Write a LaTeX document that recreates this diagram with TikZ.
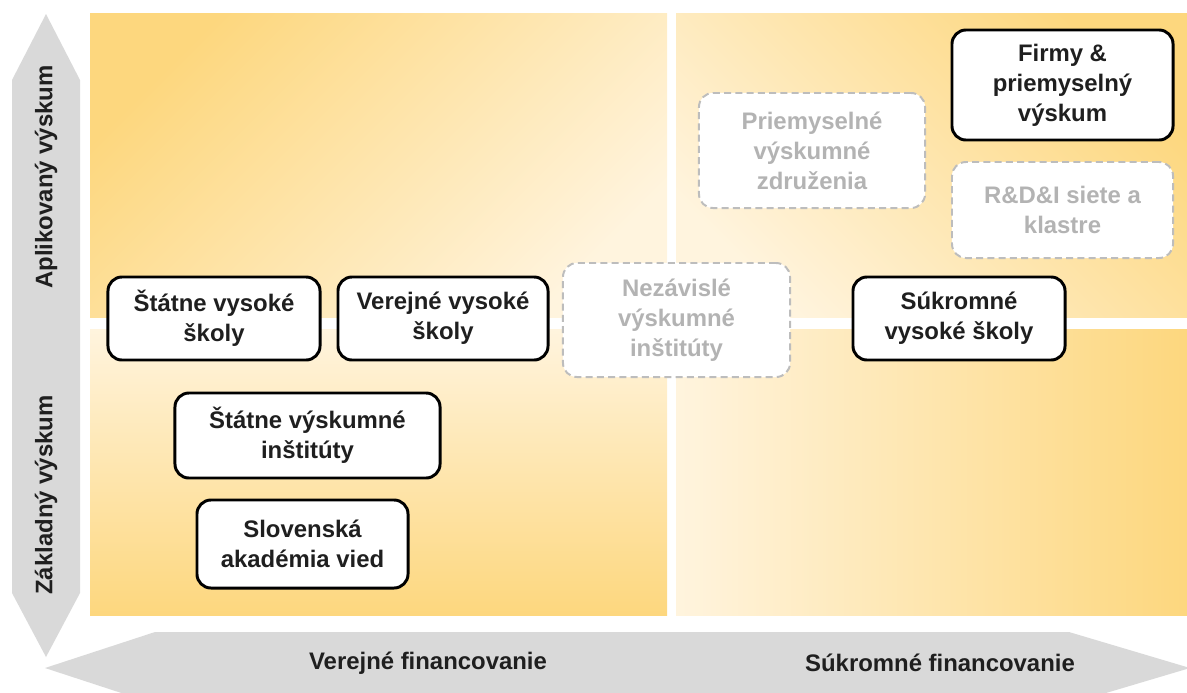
\documentclass[tikz,border=0pt]{standalone}
\usepackage{fontspec}
\setmainfont{Liberation Sans}
\definecolor{golddark}{HTML}{FDD77E}
\definecolor{goldlight}{HTML}{FFF4DE}
\definecolor{arrowgray}{HTML}{D9D9D9}
\definecolor{dashgray}{HTML}{BDBDBD}
\definecolor{textgray}{HTML}{B3B3B3}
\definecolor{textdark}{HTML}{1F1F1F}
\tikzset{
  boxtext/.style={align=center,inner sep=0pt,font=\bfseries\fontsize{17}{21.3}\selectfont},
  solidbox/.style={boxtext,draw=black,line width=2.1pt,rounded corners=0.35cm,fill=white,text=textdark},
  dashbox/.style={boxtext,draw=dashgray,line width=1.4pt,dash pattern=on 5pt off 3pt,rounded corners=0.35cm,fill=white,text=textgray},
  axislabel/.style={inner sep=0pt,text=textdark,font=\bfseries\fontsize{17}{21}\selectfont}
}
\begin{document}
\begin{tikzpicture}[x=0.025cm,y=-0.025cm]
    \useasboundingbox (0,0) rectangle (1187,692) ;
    %\draw[very thin,gray,step=50] (0,0) grid (1187,692) ;
         % quadrants
         \shade[top color=golddark,bottom color=goldlight,shading angle=45] (90,13) rectangle (667,317) ;
         \shade[top color=goldlight,bottom color=golddark] (90,329) rectangle (667,615) ;
         \shade[top color=golddark,bottom color=goldlight,shading angle=-45] (676,13) rectangle (1187,317) ;
         \shade[left color=goldlight,right color=golddark] (676,329) rectangle (1187,615) ;
         % axes
         \fill[arrowgray] (46,14)--(80,80)--(80,593)--(46,657)--(12,593)--(12,80)--cycle ;
         \fill[arrowgray] (45,668)--(155,632)--(1069,632)--(1190,668)--(1069,704)--(155,704)--cycle ;
         \node[axislabel,rotate=90] (apl) at (46,177) {Aplikovaný výskum} ;
         \node[axislabel,rotate=90] (zak) at (46,495) {Základný výskum} ;
         \node[axislabel] (ver) at (428,663) {Verejné financovanie} ;
         \node[axislabel] (suk) at (940,663) {Súkromné financovanie} ;
         % institutions
         \node[solidbox,minimum width=5.3cm,minimum height=2.075cm] (svs) at (214,318.5) {Štátne vysoké\\školy} ;
         \node[solidbox,minimum width=5.25cm,minimum height=2.075cm] (vvs) at (443,318.5) {Verejné vysoké\\školy} ;
         \node[dashbox,minimum width=5.675cm,minimum height=2.85cm] (nvi) at (676.5,320) {Nezávislé\\výskumné\\inštitúty} ;
         \node[dashbox,minimum width=5.65cm,minimum height=2.875cm] (pvz) at (812,150.5) {Priemyselné\\výskumné\\združenia} ;
         \node[solidbox,minimum width=5.525cm,minimum height=2.75cm] (fpv) at (1062.5,85) {Firmy \&\\priemyselný\\výskum} ;
         \node[dashbox,minimum width=5.525cm,minimum height=2.4cm] (rdi) at (1062.5,210) {R\&D\&I siete a\\klastre} ;
         \node[solidbox,minimum width=5.3cm,minimum height=2.075cm] (skvs) at (959,318.5) {Súkromné\\vysoké školy} ;
         \node[solidbox,minimum width=6.625cm,minimum height=2.125cm] (svi) at (307.5,435.5) {Štátne výskumné\\inštitúty} ;
         \node[solidbox,minimum width=5.275cm,minimum height=2.2cm] (sav) at (302.5,544) {Slovenská\\akadémia vied} ;
\end{tikzpicture}
\end{document}
